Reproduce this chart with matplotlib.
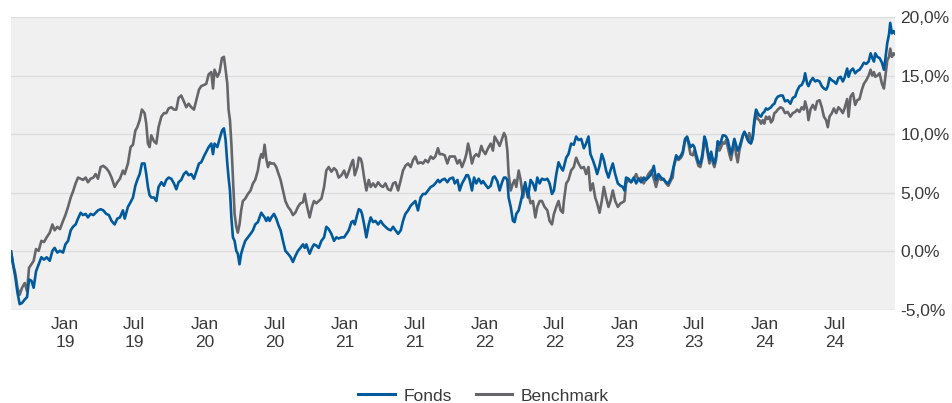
import matplotlib
matplotlib.use("Agg")
import matplotlib.pyplot as plt
import pandas as pd

# Decimal-year time stamps of the readings
years = [
    2018.614, 2018.629, 2018.645, 2018.660, 2018.676, 2018.693, 2018.712, 2018.729, 2018.743, 2018.760,
    2018.776, 2018.793, 2018.812, 2018.831, 2018.850, 2018.869, 2018.891, 2018.910, 2018.926, 2018.945,
    2018.964, 2018.986, 2019.003, 2019.022, 2019.041, 2019.057, 2019.076, 2019.093, 2019.112, 2019.129,
    2019.148, 2019.164, 2019.183, 2019.203, 2019.219, 2019.236, 2019.255, 2019.274, 2019.295, 2019.314,
    2019.333, 2019.355, 2019.374, 2019.393, 2019.414,
    2019.427, 2019.450, 2019.469, 2019.486, 2019.503, 2019.517, 2019.534, 2019.550, 2019.569, 2019.581,
    2019.593, 2019.605, 2019.617, 2019.636, 2019.653, 2019.669, 2019.689, 2019.708, 2019.724, 2019.741,
    2019.760, 2019.779, 2019.796, 2019.812, 2019.831, 2019.850, 2019.867, 2019.884, 2019.903, 2019.922,
    2019.939, 2019.958, 2019.974, 2019.993, 2020.010, 2020.027, 2020.046, 2020.058, 2020.069, 2020.089,
    2020.105, 2020.122, 2020.136, 2020.148, 2020.160, 2020.169, 2020.179, 2020.189, 2020.200,
    2020.212, 2020.224, 2020.235, 2020.247, 2020.259, 2020.271, 2020.288, 2020.307, 2020.326, 2020.343,
    2020.359, 2020.378, 2020.390, 2020.402, 2020.414, 2020.426, 2020.438, 2020.450, 2020.462, 2020.474,
    2020.493, 2020.509, 2020.526, 2020.540, 2020.557, 2020.574, 2020.593, 2020.612, 2020.628, 2020.645,
    2020.664, 2020.681, 2020.700, 2020.712, 2020.724, 2020.735, 2020.747, 2020.764, 2020.778, 2020.795,
    2020.812, 2020.831, 2020.850, 2020.866, 2020.883, 2020.902, 2020.921, 2020.938, 2020.954, 2020.974,
    2020.993, 2021.010, 2021.026, 2021.045, 2021.057, 2021.069, 2021.088, 2021.098, 2021.112, 2021.121,
    2021.136, 2021.152, 2021.169, 2021.183, 2021.200, 2021.217, 2021.236, 2021.255, 2021.271, 2021.288,
    2021.307, 2021.326, 2021.343, 2021.360, 2021.379, 2021.398, 2021.414, 2021.431, 2021.450, 2021.469,
    2021.486, 2021.502, 2021.521, 2021.540, 2021.557, 2021.574, 2021.593, 2021.612, 2021.629, 2021.645,
    2021.664, 2021.676, 2021.693, 2021.712, 2021.731, 2021.748, 2021.771,
    2021.784, 2021.803, 2021.819, 2021.836, 2021.855, 2021.867, 2021.879, 2021.891, 2021.907, 2021.922,
    2021.938, 2021.955, 2021.974, 2021.986, 2022.003, 2022.022, 2022.041, 2022.057, 2022.069, 2022.088,
    2022.105, 2022.122, 2022.136, 2022.148, 2022.160, 2022.169, 2022.184, 2022.200, 2022.212, 2022.224,
    2022.241, 2022.255, 2022.272, 2022.288, 2022.307, 2022.326, 2022.343, 2022.360, 2022.374, 2022.391,
    2022.407, 2022.426, 2022.446, 2022.462, 2022.479, 2022.493, 2022.510, 2022.526, 2022.541, 2022.557,
    2022.564, 2022.581, 2022.597, 2022.616, 2022.635, 2022.652, 2022.669, 2022.688, 2022.707, 2022.723,
    2022.740, 2022.754, 2022.771, 2022.788, 2022.802, 2022.819, 2022.835, 2022.850, 2022.866, 2022.883,
    2022.897, 2022.914, 2022.931, 2022.950, 2022.969, 2022.985, 2022.997, 2023.009, 2023.026, 2023.045,
    2023.064, 2023.081, 2023.097, 2023.116, 2023.135, 2023.152, 2023.169, 2023.188, 2023.207, 2023.223,
    2023.240, 2023.259, 2023.278, 2023.295, 2023.311, 2023.331, 2023.342,
    2023.350, 2023.367, 2023.383, 2023.402, 2023.414, 2023.431, 2023.445, 2023.455, 2023.469, 2023.486,
    2023.497, 2023.509, 2023.526, 2023.540, 2023.555, 2023.569, 2023.581, 2023.593, 2023.605, 2023.617,
    2023.628, 2023.640, 2023.652, 2023.664, 2023.676, 2023.688, 2023.700, 2023.712, 2023.724, 2023.736,
    2023.747, 2023.759, 2023.771, 2023.783, 2023.795, 2023.807, 2023.819, 2023.831, 2023.843, 2023.855,
    2023.867, 2023.878, 2023.890, 2023.902, 2023.914, 2023.926, 2023.938, 2023.950, 2023.962, 2023.974,
    2023.986, 2023.997, 2024.009, 2024.021, 2024.033, 2024.045, 2024.057, 2024.069, 2024.081, 2024.093,
    2024.112, 2024.128,
    2024.145, 2024.164, 2024.183, 2024.200, 2024.217, 2024.231, 2024.248, 2024.264, 2024.279, 2024.288,
    2024.303, 2024.312, 2024.326, 2024.343, 2024.360, 2024.374, 2024.391, 2024.407, 2024.422, 2024.438,
    2024.450, 2024.462, 2024.479, 2024.493, 2024.510, 2024.526, 2024.541, 2024.557, 2024.569, 2024.588,
    2024.598, 2024.612, 2024.629, 2024.645, 2024.660, 2024.676, 2024.693, 2024.707, 2024.724, 2024.741,
    2024.755, 2024.767, 2024.779, 2024.788, 2024.803, 2024.819, 2024.836, 2024.850, 2024.860, 2024.874,
    2024.886, 2024.895, 2024.907, 2024.919, 2024.929,
]

fonds = [
    0, -1.1, -2.2, -3.5, -4.5, -4.4, -4.1, -3.9, -2.4, -2.5, -3.1, -1.7, -1.1, -0.5, -0.7, -0.5, -0.8,
    0.05, 0.3, -0.1, 0.05, -0.1, 0.6, 0.9, 1.8, 2.1, 2.3, 2.8, 3.3, 3.1, 3.2, 2.9, 3.2, 3.1, 3.3, 3.5,
    3.6, 3.5, 3.2, 3.1, 2.6, 2.3, 2.8, 2.9, 3.5,
    2.8, 3.8, 4.2, 4.6, 5.6, 6.1, 6.6, 7.5, 7.5, 6.6, 5.5, 4.8, 4.6, 4.6, 4.3, 5.5, 5.9, 5.6, 6.1, 6.3,
    6.2, 5.8, 5.3, 5.9, 6.1, 6.6, 6.8, 6.5, 6.6, 6.2, 6.8, 7.5, 7.6, 8.1, 8.5, 8.9, 9.2, 8.3, 9.2, 8.9,
    9.6, 10.3, 10.5, 9.5, 7.5, 6.3, 5.2, 2.9, 1.2,
    0.9, 0.05, -0.2, -1.1, -0.2, 0.3, 0.9, 1.2, 1.5, 1.8, 2.3, 2.5, 2.9, 3.3, 3.1, 2.9, 2.6, 2.9, 2.6,
    2.9, 3.2, 2.8, 2.2, 1.8, 0.9, 0.05, -0.2, -0.5, -0.9, -0.4, 0.05, 0.3, 0.6, 0.3, 0.6, 0.2, -0.2,
    0.3, 0.6, 0.5, 0.3, 0.9, 1.2, 2.1, 1.9, 1.5, 0.9, 1.2, 1.1, 1.2,
    1.2, 1.5, 1.8, 2.5, 2.6, 2.3, 3.2, 3.6, 3.5, 3.2, 2.3, 1.2, 2.3, 2.9, 2.5, 2.6, 2.3, 2.6, 2.3, 2.1,
    1.9, 1.8, 2.1, 1.8, 1.5, 1.8, 2.6, 3.2, 3.5, 3.9, 4.1, 4.3, 3.5, 4.6, 4.9, 4.9, 5.2, 5.5, 5.6, 5.8,
    6.1, 5.9, 6.1, 6.2, 5.9, 6.2, 6.3,
    5.8, 6.1, 5.2, 5.8, 6.2, 6.5, 6.5, 6.1, 5.2, 6.3, 5.8, 6.2, 5.8, 6.0, 5.7, 5.4, 5.6, 6.3, 6.4, 6.0,
    5.2, 5.9, 6.3, 6.3, 6.1, 4.6, 3.8, 2.6, 2.5, 3.2, 3.5, 4.2, 5.1, 5.9, 4.6, 6.1, 5.8, 5.2, 6.3, 5.8,
    6.2, 6.1, 6.2, 5.8, 4.9, 5.2, 6.6, 7.6, 7.2, 6.9,
    7.2, 8.0, 8.3, 9.2, 9.1, 9.8, 9.5, 9.6, 8.8, 9.2, 9.8, 8.3, 7.8, 7.2, 6.6, 7.3, 8.3, 7.8, 6.9, 6.3,
    6.9, 7.5, 6.6, 5.8, 5.6, 5.5, 5.2, 6.3, 6.2, 5.9, 6.3, 5.8, 6.2, 5.9, 6.3, 6.1, 6.3, 6.6, 7.3, 6.1,
    6.6, 6.3, 6.1, 5.9, 5.8, 6.3, 6.9,
    7.3, 8.2, 7.9, 8.2, 8.5, 9.6, 9.8, 9.4, 8.9, 9.1, 8.9, 8.3, 7.6, 7.5, 8.3, 9.8, 9.4, 8.5, 7.8, 8.5,
    7.9, 7.5, 8.1, 9.4, 9.1, 9.4, 9.9, 9.9, 9.8, 9.5, 8.9, 8.3, 8.9, 9.6, 9.1, 8.6, 8.9, 9.4, 9.9, 10.2,
    9.9, 9.5, 9.3, 9.2, 9.8, 11.2, 12.1, 11.8, 11.6, 11.5, 11.8, 11.9, 12.2, 12.1, 12.2, 12.3, 12.5,
    12.6, 13.0, 13.2, 13.3, 13.3,
    12.8, 12.9, 12.6, 13.1, 13.2, 13.7, 14.1, 14.2, 14.6, 15.2, 14.3, 14.1, 14.5, 14.8, 14.5, 14.6,
    14.5, 14.1, 13.9, 13.8, 14.1, 14.8, 14.6, 14.5, 14.3, 14.8, 14.9, 14.5, 14.8, 15.6, 14.9, 15.4,
    15.6, 15.2, 15.4, 15.5, 15.8, 16.1, 16.0, 16.2, 16.9, 16.5, 16.2, 16.9, 16.6, 16.5, 16.1, 15.5,
    16.4, 17.8, 18.5, 19.5, 18.6, 18.8, 18.6,
]

benchmark = [
    0, -1.1, -1.9, -3.1, -3.7, -3.1, -2.7, -3.4, -1.4, -1.1, -0.8, 0.2, 0.05, 0.9, 0.8, 1.2, 1.6, 2.3,
    1.8, 2.1, 1.9, 2.6, 3.1, 3.8, 4.6, 5.1, 5.8, 6.3, 6.2, 6.1, 6.3, 5.9, 6.2, 6.3, 6.6, 6.2, 7.2, 7.3,
    7.1, 6.8, 6.3, 5.5, 5.9, 6.2, 6.9,
    6.6, 7.5, 8.9, 9.1, 10.3, 10.6, 11.2, 12.1, 11.8, 10.9, 9.2, 8.9, 9.9, 9.4, 9.2, 10.6, 11.5, 11.8,
    11.8, 12.2, 12.3, 12.1, 12.1, 13.1, 13.3, 12.8, 12.3, 12.6, 12.3, 12.1, 12.9, 13.8, 14.1, 14.2,
    14.3, 15.1, 15.3, 13.9, 15.5, 14.9, 15.3, 16.5, 16.6, 15.5, 14.3, 12.1, 11.2, 9.2, 6.3,
    3.2, 2.1, 1.6, 2.3, 3.5, 4.3, 4.5, 4.9, 5.2, 5.8, 6.1, 6.9, 7.8, 8.3, 8.0, 9.1, 7.9, 7.2, 7.6, 7.5,
    7.5, 7.2, 6.6, 6.1, 5.2, 4.3, 3.8, 3.5, 3.1, 3.3, 3.8, 4.1, 4.2, 4.9, 4.1, 3.5, 2.9, 3.8, 4.3, 4.1,
    4.3, 4.5, 5.5, 6.9, 7.2, 6.8, 7.1, 6.9, 6.3, 6.5,
    6.9, 6.3, 6.8, 7.5, 7.8, 6.5, 7.2, 8.0, 7.9, 7.5, 6.3, 5.2, 6.1, 5.5, 5.8, 5.5, 5.9, 5.6, 5.5, 5.8,
    5.3, 5.2, 5.8, 5.9, 5.2, 6.1, 6.9, 7.3, 7.5, 7.2, 7.8, 8.1, 7.5, 7.6, 7.5, 7.8, 7.6, 8.1, 7.9, 8.1,
    8.8, 8.3, 8.3, 8.2, 7.5, 8.1, 8.1,
    8.1, 7.5, 7.8, 7.2, 7.8, 8.3, 9.2, 8.6, 7.5, 8.1, 8.3, 8.1, 9.0, 8.6, 8.3, 8.8, 9.2, 8.6, 9.8, 9.4,
    9.0, 9.6, 10.1, 9.8, 8.6, 6.6, 5.2, 5.8, 6.1, 5.5, 6.9, 6.1, 4.6, 5.5, 5.2, 4.1, 4.3, 2.9, 3.8, 4.3,
    4.3, 3.8, 3.5, 2.6, 2.3, 3.2, 3.8, 4.3, 3.5, 3.3,
    4.3, 5.8, 6.1, 6.9, 7.2, 8.0, 7.5, 7.1, 7.2, 6.6, 7.2, 5.2, 5.8, 4.6, 4.1, 3.3, 4.3, 5.5, 4.6, 3.8,
    4.3, 5.2, 4.3, 3.8, 4.1, 4.2, 4.3, 5.8, 6.1, 5.9, 6.2, 6.6, 6.1, 6.3, 5.8, 6.2, 6.6, 6.9, 6.2, 5.5,
    6.3, 6.1, 6.2, 5.8, 5.6, 6.1, 6.3,
    7.2, 8.0, 7.8, 8.0, 8.3, 9.5, 9.6, 9.2, 8.3, 8.2, 8.6, 8.0, 7.3, 7.2, 8.0, 9.6, 9.2, 8.3, 7.5, 8.3,
    7.6, 7.2, 7.8, 9.2, 8.6, 8.9, 9.3, 9.2, 9.5, 8.9, 8.3, 7.8, 8.6, 9.5, 8.3, 7.6, 8.6, 9.2, 9.8, 10.2,
    9.9, 9.6, 10.1, 9.3, 9.6, 10.9, 11.8, 11.3, 11.2, 10.9, 11.2, 10.9, 11.5, 11.3, 11.5, 11.0, 11.2,
    11.8, 11.9, 12.1, 12.3, 12.2,
    11.8, 11.9, 11.5, 11.8, 11.9, 12.1, 11.9, 12.3, 12.1, 12.8, 12.1, 11.2, 12.1, 12.5, 12.1, 12.8,
    12.9, 12.3, 11.5, 11.2, 10.6, 11.5, 11.8, 12.2, 11.8, 12.3, 12.1, 11.8, 12.2, 13.0, 11.5, 13.2,
    13.5, 12.5, 12.9, 13.0, 13.8, 14.3, 14.6, 15.0, 15.5, 15.0, 15.3, 14.9, 15.0, 15.2, 14.3, 13.9,
    14.9, 16.3, 16.6, 17.3, 16.6, 16.9, 16.8,
]

series_names = ["Fonds", "Benchmark"]
series_colors = ["#005a9c", "#65666a"]
y_ticks = [-5, 0, 5, 10, 15, 20]
tick_years = [2019, 2020, 2021, 2022, 2023, 2024]


def to_dt(y):
    yr = int(y)
    start = pd.Timestamp(yr, 1, 1)
    end = pd.Timestamp(yr + 1, 1, 1)
    return start + (end - start) * (y - yr)


dates = [to_dt(y) for y in years]

plt.rcParams['font.family'] = ['Liberation Sans', 'DejaVu Sans']

fig = plt.figure(figsize=(9.52, 4.03), dpi=100)
ax = fig.add_axes([11 / 952, 1 - 310 / 403, (895 - 11) / 952, (310 - 17) / 403])
ax.set_facecolor("#f0f0f0")

for sp in ax.spines.values():
    sp.set_visible(False)

ax.set_ylim(-5, 20)
ax.set_xlim(dates[0], dates[-1])
ax.set_yticks(y_ticks)
ax.set_yticklabels([f"{v:.1f}".replace(".", ",") + "%" for v in y_ticks])
ax.yaxis.tick_right()
ax.grid(axis="y", color="#dcdcdc", linewidth=1.0)
ax.set_axisbelow(True)

xt, xl = [], []
for yv in tick_years:
    xt.append(pd.Timestamp(yv, 1, 1)); xl.append(f"Jan\n{yv % 100:02d}")
    xt.append(pd.Timestamp(yv, 7, 1)); xl.append(f"Jul\n{yv % 100:02d}")
ax.set_xticks(xt)
ax.set_xticklabels(xl, linespacing=1.25)

ax.tick_params(axis="both", length=0, labelsize=12.5, colors="#3a3a3a")
ax.tick_params(axis="y", pad=4)
ax.tick_params(axis="x", pad=5)

ax.plot(dates, benchmark, color=series_colors[1], linewidth=1.9, label=series_names[1], solid_joinstyle="round")
ax.plot(dates, fonds, color=series_colors[0], linewidth=1.9, label=series_names[0], solid_joinstyle="round")

handles, labels = ax.get_legend_handles_labels()
leg = fig.legend(handles[::-1], labels[::-1], loc="center", bbox_to_anchor=(0.508, 1 - 396 / 403),
                 ncol=2, frameon=False, fontsize=12.5, handlelength=2.1, handletextpad=0.5,
                 columnspacing=1.4, borderpad=0)
for t in leg.get_texts():
    t.set_color("#3a3a3a")
for h in leg.get_lines():
    h.set_linewidth(2.2)

fig.savefig("out.png", dpi=100, facecolor="white")
